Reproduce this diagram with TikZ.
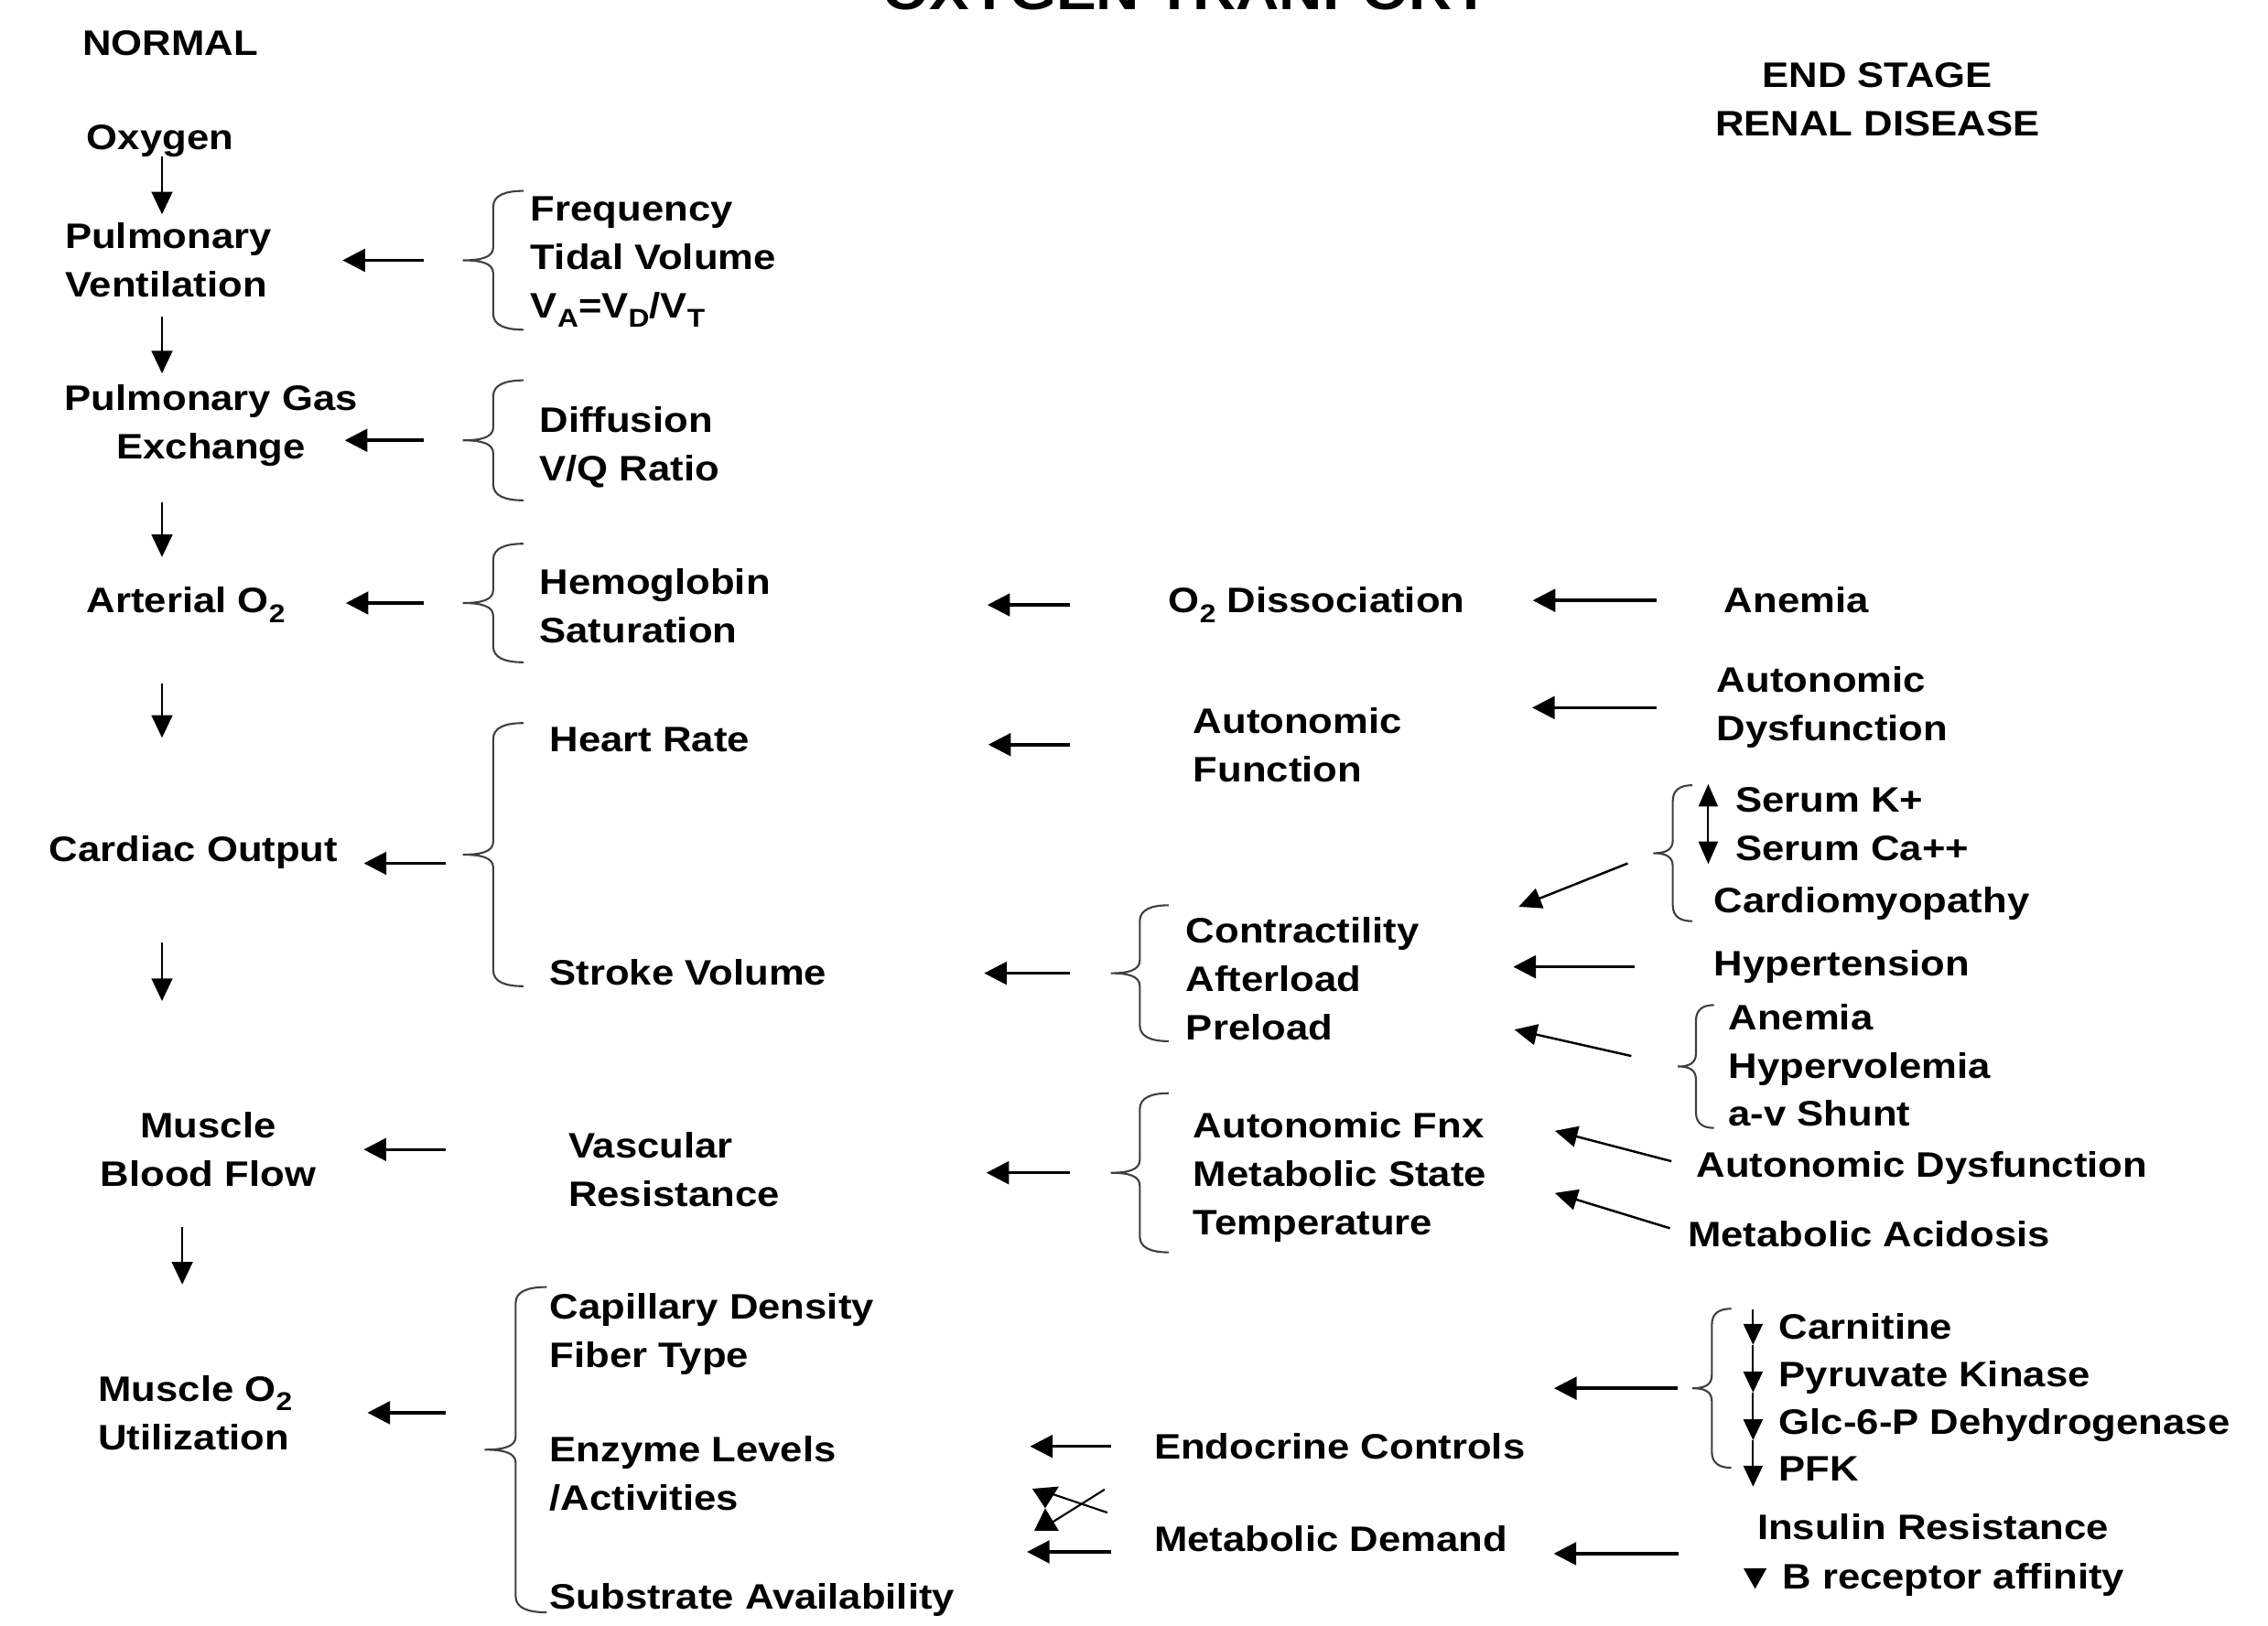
\documentclass[tikz,border=0pt]{standalone}
\usepackage{fontspec}
\newfontfamily\dfont[FakeStretch=1.13]{Liberation Sans}
\usetikzlibrary{arrows.meta,calc}
\newcommand\uq{0.015804cm}
\newcommand\sbs[1]{\raisebox{-0.5ex}{\fontsize{8}{8}\selectfont #1}}
\newcommand\cbr[5]{%
  \pgfmathsetmacro\brmid{(#3+#4)/2}%
  \pgfmathsetmacro\brhalf{#5/2}%
  \draw[brc] (#2,#3) .. controls ({#2-0.6*\brhalf},#3) and ({#2-\brhalf},{#3+3}) .. ({#2-\brhalf},{#3+11})
    -- ({#2-\brhalf},{\brmid-9}) .. controls ({#2-\brhalf},{\brmid-2}) and ({#2-0.7*#5},\brmid) .. ({#2-#5},\brmid)
    .. controls ({#2-0.7*#5},\brmid) and ({#2-\brhalf},{\brmid+2}) .. ({#2-\brhalf},{\brmid+9})
    -- ({#2-\brhalf},{#4-11}) .. controls ({#2-\brhalf},{#4-3}) and ({#2-0.6*\brhalf},#4) .. (#2,#4);%
  \coordinate (#1) at ({#2-#5},\brmid);%
}
\begin{document}
\begin{tikzpicture}[x=0.015804cm,y=-0.015804cm,
  txt/.style={inner sep=0pt, outer sep=0pt, anchor=north west, align=left,
    font=\dfont\bfseries\fontsize{11}{15.06}\selectfont, text=black},
  ctxt/.style={txt, anchor=north, align=center},
  larr/.style={line width=1pt, -{Triangle[length=7pt,width=7pt]}},
  darr/.style={line width=0.6pt, -{Triangle[length=7pt,width=6.5pt]}},
  diag/.style={line width=0.7pt, -{Triangle[length=7pt,width=6.5pt]}},
  sarr/.style={line width=0.6pt, -{Triangle[length=6.5pt,width=6pt]}},
  brc/.style={line width=0.6pt, draw=black!75},
]
\useasboundingbox (0,0) rectangle (1568,1124.4);
\fill[white] (0,0) rectangle (1568,1124.4);

% headings
\node[txt, anchor=base, font=\dfont\bfseries\fontsize{16.5}{20}\selectfont] (title) at (820,6.5) {OXYGEN TRANPORT};
\node[txt] (normal) at (57,21.2) {NORMAL};
\node[ctxt] (esrd) at (1298,43.2) {END STAGE\\RENAL DISEASE};

% left column
\node[txt] (oxy) at (60,86.2) {Oxygen};
\node[txt] (pv) at (45,154.2) {Pulmonary\\Ventilation};
\node[ctxt] (pge) at (146,266.2) {Pulmonary Gas\\Exchange};
\node[txt] (art) at (60,406.2) {Arterial O\sbs{2}};
\node[txt] (co) at (34,578.2) {Cardiac Output};
\node[ctxt] (mbf) at (144,769.2) {Muscle\\Blood Flow};
\node[txt] (mo2) at (68,951.2) {Muscle O\sbs{2}\\Utilization};

% second column
\node[txt] (freq) at (367,136.2) {Frequency\\Tidal Volume\\V\sbs{A}=V\sbs{D}/V\sbs{T}};
\node[txt] (diff) at (373,281.2) {Diffusion\\V/Q Ratio};
\node[txt] (hem) at (373,393.2) {Hemoglobin\\Saturation};
\node[txt] (hr) at (380,503.2) {Heart Rate};
\node[txt] (sv) at (380,663.2) {Stroke Volume};
\node[txt] (vr) at (393,783.2) {Vascular\\Resistance};
\node[txt] (capd) at (380,894.2) {Capillary Density\\Fiber Type};
\node[txt] (enz) at (380,993.2) {Enzyme Levels\\/Activities};
\node[txt] (subs) at (380,1095.2) {Substrate Availability};

% third column
\node[txt] (o2d) at (808,406.2) {O\sbs{2} Dissociation};
\node[txt] (af) at (825,489.2) {Autonomic\\Function};
\node[txt] (ctr) at (820,634.2) {Contractility\\Afterload\\Preload};
\node[txt] (anf) at (825,769.2) {Autonomic Fnx\\Metabolic State\\Temperature};
\node[txt] (endo) at (798,991.2) {Endocrine Controls};
\node[txt] (md) at (798,1055.2) {Metabolic Demand};

% right column
\node[txt] (an1) at (1192,406.2) {Anemia};
\node[txt] (ad1) at (1187,461.2) {Autonomic\\Dysfunction};
\node[txt] (serk) at (1200,544.2) {Serum K+};
\node[txt] (serca) at (1200,578.2) {Serum Ca++};
\node[txt] (cm) at (1185,613.2) {Cardiomyopathy};
\node[txt] (ht) at (1185,657.2) {Hypertension};
\node[txt] (an2) at (1195,694.2) {Anemia\\Hypervolemia\\a-v Shunt};
\node[txt] (ad2) at (1173,796.2) {Autonomic Dysfunction};
\node[txt] (ma) at (1167,844.2) {Metabolic Acidosis};
\node[txt] (carn) at (1230,908.2) {Carnitine};
\node[txt] (pyr) at (1230,941.2) {Pyruvate Kinase};
\node[txt] (glc) at (1230,974.2) {Glc-6-P Dehydrogenase};
\node[txt] (pfk) at (1230,1007.2) {PFK};
\node[txt] (ins) at (1215,1047.2) {Insulin Resistance};
\node[txt] (bra) at (1200,1081.2) {▼\hspace{0.2em}B receptor affinity};

% braces
\cbr{b1}{362}{132}{228}{42}
\cbr{b2}{362}{263}{346}{42}
\cbr{b3}{362}{376}{458}{42}
\cbr{b4}{362}{500}{682}{42}
\cbr{b5}{808}{626}{720}{40}
\cbr{b6}{1170}{543}{637}{27}
\cbr{b7}{1185}{695}{780}{25}
\cbr{b8}{808}{756}{866}{40}
\cbr{b9}{378}{890}{1115}{43}
\cbr{b10}{1197}{905}{1015}{27}

% down arrows, normal chain
\coordinate (colA) at (112,0);
\coordinate (colB) at (126,0);
\draw[darr, shorten <=0*\uq, shorten >=6*\uq] (oxy.south -| colA) -- (pv.north -| colA);
\draw[darr, shorten <=13*\uq, shorten >=8*\uq] (pv.south -| colA) -- (pge.north -| colA);
\draw[darr, shorten <=25*\uq, shorten >=21*\uq] (pge.south -| colA) -- (art.north -| colA);
\draw[darr, shorten <=42*\uq, shorten >=68*\uq] (art.south -| colA) -- (co.north -| colA);
\draw[darr, shorten <=51*\uq, shorten >=77*\uq] (co.south -| colA) -- (mbf.north -| colA);
\draw[darr, shorten <=28*\uq, shorten >=63*\uq] (mbf.south -| colB) -- (mo2.north -| colB);

% horizontal arrows
\draw[larr, shorten <=27*\uq, shorten >=49*\uq] (b1) -- (b1 -| pv.east);
\draw[larr, shorten <=27*\uq, shorten >=-9*\uq] (b2) -- (b2 -| pge.east);
\draw[larr, shorten <=27*\uq, shorten >=42*\uq] (b3) -- (b3 -| art.east);
\draw[larr, shorten <=68*\uq, shorten >=150*\uq] (o2d.west) -- (o2d.west -| hem.east);
\draw[larr, shorten <=47*\uq, shorten >=47*\uq] (an1.west) -- (an1.west -| o2d.east);
\coordinate (b4a) at ($(b4)+(0,6)$);
\draw[larr, shorten <=12*\uq, shorten >=18*\uq] (b4a) -- (b4a -| co.east);
\draw[larr, shorten <=85*\uq, shorten >=165*\uq] (af.west) -- (af.west -| hr.east);
\draw[larr, shorten <=42*\uq, shorten >=90*\uq] (ad1.west) -- (ad1.west -| af.east);
\draw[larr, shorten <=28*\uq, shorten >=109*\uq] (b5) -- (b5 -| sv.east);
\draw[larr, shorten <=55*\uq, shorten >=65*\uq] (ht.west) -- (ht.west -| ctr.east);
\draw[larr, shorten <=85*\uq, shorten >=33*\uq] (vr.west |- mbf.east) -- (mbf.east);
\draw[larr, shorten <=28*\uq, shorten >=143*\uq] (b8) -- (b8 -| vr.east);
\draw[larr, shorten <=27*\uq, shorten >=52*\uq] (mo2.east -| b9) -- (mo2.east);
\draw[larr, shorten <=30*\uq, shorten >=134*\uq] (endo.west) -- (endo.west -| enz.east);
\draw[larr, shorten <=30*\uq, shorten >=50*\uq] (md.south west) -- (md.south west -| subs.east);
\draw[larr, shorten <=10*\uq, shorten >=20*\uq] (b10) -- (b10 -| endo.east);
\coordinate (insm) at ($(ins.west)!0.5!(bra.west)$);
\draw[larr, shorten <=47*\uq, shorten >=32*\uq] (insm) -- (insm -| md.east);

% diagonal arrows
\coordinate (a10e) at (1050,627);
\coordinate (a12e) at (1047,712);
\coordinate (a15e) at (1075,782);
\coordinate (a16e) at (1075,825);
\draw[diag, shorten <=19*\uq] (b6) -- (a10e);
\draw[diag, shorten <=33*\uq] (b7) -- (a12e);
\draw[diag, shorten <=18*\uq] (ad2.west) -- (a15e);
\draw[diag, shorten <=13*\uq] (ma.west) -- (a16e);

% small inline arrows
\draw[line width=0.6pt, {Triangle[length=7pt,width=6pt]}-{Triangle[length=7pt,width=6pt]}]
  ($(serk.north west)+(-19,-2)$) -- ($(serca.south west)+(-19,2)$);
\coordinate (c0) at ($(carn.north west)+(-18,-3)$);
\coordinate (c1) at ($(carn.base west)+(-18,4)$);
\coordinate (c2) at ($(pyr.base west)+(-18,4)$);
\coordinate (c3) at ($(glc.base west)+(-18,4)$);
\coordinate (c4) at ($(pfk.base west)+(-18,4)$);
\draw[sarr] (c0) -- (c1);
\draw[sarr] (c1) -- (c2);
\draw[sarr] (c2) -- (c3);
\draw[sarr] (c3) -- (c4);

% crossed arrows between the controls and the enzyme / substrate items
\fill (713.7,1029.5) -- (732,1028) -- (722.6,1043) -- cycle;
\fill (722.6,1043) -- (715,1058.6) -- (732,1058.6) -- cycle;
\draw[line width=0.6pt] (727,1033) -- (765.6,1046);
\draw[line width=0.6pt] (727,1053) -- (763.7,1030);
\end{tikzpicture}
\end{document}
